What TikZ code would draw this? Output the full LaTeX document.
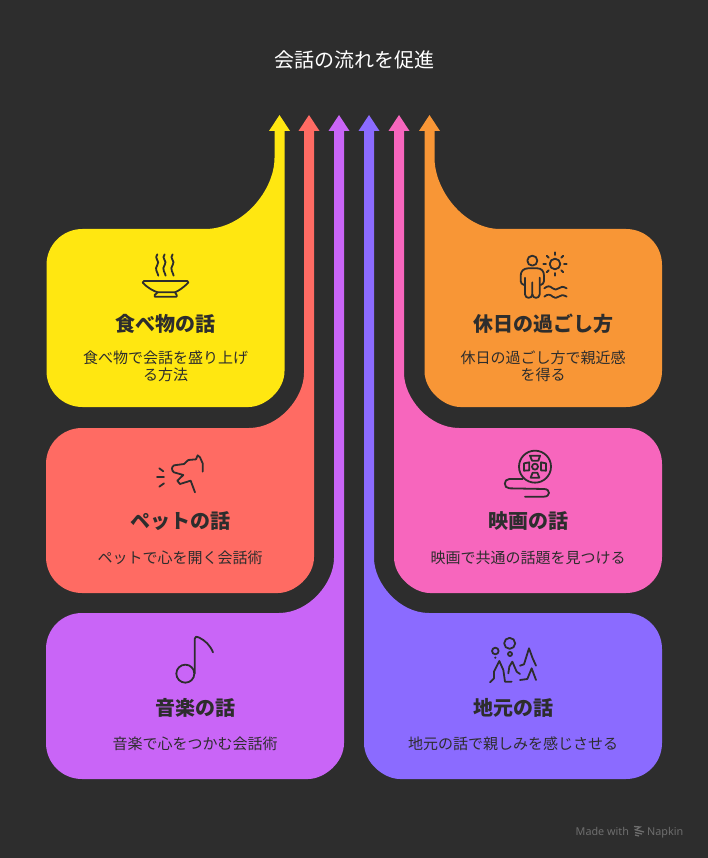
\documentclass[tikz,border=0pt]{standalone}
\usepackage{fontspec}
\setmainfont{Noto Sans CJK JP}
\newfontfamily\latinf{Noto Sans}
\definecolor{bgc}{HTML}{2D2D2D}
\definecolor{yel}{HTML}{FFE711}
\definecolor{redc}{HTML}{FF6B63}
\definecolor{pur}{HTML}{C965F7}
\definecolor{blu}{HTML}{8B6BFF}
\definecolor{pnk}{HTML}{F766BD}
\definecolor{org}{HTML}{F89636}
\definecolor{foot}{HTML}{6E6E6E}
\tikzset{
  heading/.style={inner sep=0pt,text=bgc,font=\fontsize{20}{24}\selectfont\bfseries},
  descr/.style={inner sep=0pt,text=bgc,align=center,font=\fontsize{15}{17}\selectfont},
  icon/.style={draw=bgc,line width=1.8pt,line cap=round,line join=round,fill=none},
  footnote/.style={inner sep=0pt,text=foot,font=\latinf\fontsize{10.8}{12}\selectfont},
}
% colour, shaft left, left edge, top, bottom, curve start y, curve end x
\newcommand{\leftshape}[7]{%
  \fill[#1] (#2,131) -- ({#2-5.5},131) -- ({#2+5},115) -- ({#2+15.5},131) -- ({#2+10},131)
   -- ({#2+10},{#5-36}) .. controls ({#2+10},{#5-16}) and ({#2-10},#5) .. ({#2-26},#5)
   -- ({#3+36},#5) .. controls ({#3+16},#5) and (#3,{#5-16}) .. (#3,{#5-36})
   -- (#3,{#4+36}) .. controls (#3,{#4+16}) and ({#3+16},#4) .. ({#3+36},#4)
   -- (#7,#4) .. controls ({#7+0.55*(#2-#7)},#4) and (#2,{#4+0.55*(#6-#4)}) .. (#2,#6) -- cycle;}
% colour, shaft left, right edge, top, bottom, curve start y, curve end x
\newcommand{\rightshape}[7]{%
  \fill[#1] ({#2+10},131) -- ({#2+15.5},131) -- ({#2+5},115) -- ({#2-5.5},131) -- (#2,131)
   -- (#2,{#5-36}) .. controls (#2,{#5-16}) and ({#2+20},#5) .. ({#2+36},#5)
   -- ({#3-36},#5) .. controls ({#3-16},#5) and (#3,{#5-16}) .. (#3,{#5-36})
   -- (#3,{#4+36}) .. controls (#3,{#4+16}) and ({#3-16},#4) .. ({#3-36},#4)
   -- (#7,#4) .. controls ({#7+0.55*(#2+10-#7)},#4) and ({#2+10},{#4+0.55*(#6-#4)}) .. ({#2+10},#6) -- cycle;}
\begin{document}
\begin{tikzpicture}[x=1pt,y=-1pt]
\useasboundingbox (0,0) rectangle (708,858);
\fill[bgc] (0,0) rectangle (708,858);

\leftshape{yel}{274.5}{46.5}{229}{407}{158}{205}
\leftshape{redc}{304}{46}{428}{593}{373}{249}
\leftshape{pur}{334}{46}{613}{779}{558}{279}
\rightshape{blu}{364}{662}{613}{779}{558}{429}
\rightshape{pnk}{394}{662}{428}{593}{373}{459}
\rightshape{org}{424.5}{662}{229}{407}{158}{500}

\node[inner sep=0pt,text=white,font=\fontsize{20}{24}\selectfont] (title) at (354.5,59.5) {会話の流れを促進};

\node[heading] (h1) at (165.5,323.5) {食べ物の話};
\node[descr] (d1) at (165.5,366) {食べ物で会話を盛り上げ\\る方法};
\node[heading] (h2) at (180,521.5) {ペットの話};
\node[descr] (d2) at (180,557.5) {ペットで心を開く会話術};
\node[heading] (h3) at (195,707.5) {音楽の話};
\node[descr] (d3) at (195,743.5) {音楽で心をつかむ会話術};
\node[heading] (h4) at (513,707.5) {地元の話};
\node[descr] (d4) at (513,743.5) {地元の話で親しみを感じさせる};
\node[heading] (h5) at (528,521.5) {映画の話};
\node[descr] (d5) at (528,557.5) {映画で共通の話題を見つける};
\node[heading] (h6) at (543,323.5) {休日の過ごし方};
\node[descr] (d6) at (543,366) {休日の過ごし方で親近感\\を得る};

% bowl
\begin{scope}[shift={(120,245)},x=0.3333pt,y=-0.3333pt]
\foreach \xx in {112,134,158}{
  \draw[icon] (\xx,28) .. controls ({\xx-12},40) and ({\xx+10},48) .. (\xx,60)
     .. controls ({\xx-10},72) and ({\xx+2},84) .. ({\xx+3},92);}
\draw[icon] (72,108) -- (202,108) -- (205,113) .. controls (190,128) and (175,138) .. (165,142)
   -- (113,142) .. controls (100,138) and (82,128) .. (68,113) -- cycle;
\draw[icon] (113,142) -- (104,150) -- (104,155) -- (170,155) -- (170,150) -- (165,142);
\end{scope}

% dog
\begin{scope}[shift={(120,440)},x=0.3333pt,y=-0.3333pt]
\draw[icon] (248,95) -- (248,70) -- (240,52) -- (233,46) -- (228,58) -- (205,60) -- (192,72) -- (162,76)
   .. controls (154,80) and (154,92) .. (162,97) -- (190,105) -- (172,122) -- (180,132) -- (212,122) -- (225,157);
\draw[icon] (118,85) -- (130,94);
\draw[icon] (111,112) -- (132,112);
\draw[icon] (118,140) -- (132,130);
\end{scope}

% film reel
\begin{scope}[shift={(480,440)},x=0.3333pt,y=-0.3333pt]
\draw[icon] (165,80) circle[radius=16pt];
\draw[icon] (165,80) circle[radius=3pt];
\draw[icon] (150,47) -- (180,47) -- (175,62) -- (156,62) -- cycle;
\draw[icon] (152,113) -- (178,113) -- (172,98) -- (158,98) -- cycle;
\draw[icon] (132,70) -- (148,67) -- (148,91) -- (132,92) -- cycle;
\draw[icon] (198,70) -- (183,67) -- (183,91) -- (198,92) -- cycle;
\draw[icon] (128,117) -- (88,117) .. controls (70,117) and (70,145) .. (88,145)
   -- (192,147) .. controls (212,147) and (212,170) .. (192,170) -- (135,170);
\end{scope}

% note
\begin{scope}[shift={(140,625)},x=0.3333pt,y=-0.3333pt]
\draw[icon] (136,146) circle[radius=9pt];
\draw[icon] (164,146) -- (164,42) .. controls (164,35) and (170,33) .. (176,37)
   .. controls (195,46) and (210,60) .. (219,82);
\end{scope}

% landscape
\begin{scope}[shift={(470,625)},x=0.3333pt,y=-0.3333pt]
\draw[icon] (119,55) circle[radius=5.5pt];
\draw[icon] (120,87) circle[radius=2pt];
\draw[icon] (76,78) circle[radius=3.3pt];
\fill[bgc] (76,98) circle[radius=1.2pt];
\draw[icon] (60,172) -- (72,160) -- (72,140) -- (88,108) -- (100,135) -- (105,170) -- (125,170);
\draw[icon] (115,145) -- (118,125) -- (127,110) -- (140,140) -- (150,147);
\draw[icon] (150,122) -- (162,118) -- (177,70) -- (188,100) -- (198,122);
\draw[icon] (150,165) -- (172,162) -- (185,130) -- (198,165);
\end{scope}

% person, sun, waves
\begin{scope}[shift={(500,245)},x=0.3333pt,y=-0.3333pt]
\draw[icon] (97,47) circle[radius=5pt];
\draw[icon] (72,120) .. controls (66,118) and (62,114) .. (62,108) -- (62,92)
   .. controls (62,78) and (72,70) .. (84,70) -- (112,70) .. controls (124,70) and (132,78) .. (132,92)
   -- (132,108) .. controls (132,114) and (128,118) .. (122,120);
\draw[icon] (75,98) -- (75,148) .. controls (75,162) and (97,162) .. (97,148) -- (97,112);
\draw[icon] (97,148) .. controls (97,162) and (119,162) .. (119,148) -- (119,98);
\draw[icon] (165,57) circle[radius=5.3pt];
\foreach \aa in {0,45,...,315}{
  \draw[icon] ({165+27*cos(\aa)},{57+27*sin(\aa)}) -- ({165+35*cos(\aa)},{57+35*sin(\aa)});}
\foreach \yy in {130,155}{
  \draw[icon] (133,\yy) .. controls (142,{\yy-8}) and (150,{\yy-8}) .. (158,\yy)
     .. controls (164,{\yy+5}) and (170,{\yy+5}) .. (176,\yy)
     .. controls (182,{\yy-6}) and (190,{\yy-6}) .. (200,\yy);}
\end{scope}

% footer
\node[footnote,anchor=base west] (made) at (575.5,835) {Made with};
\node[footnote,anchor=base west] (napkin) at (647,835) {Napkin};
\begin{scope}[line width=1.3pt]
\draw[foot] (634,826.5) -- (640,827) -- (636.5,829.5);
\draw[foot] (634.5,829.5) -- (644,832);
\draw[foot] (635,832.5) -- (642,834) ;
\draw[foot] (635,835) -- (639,836);
\end{scope}
\end{tikzpicture}
\end{document}
